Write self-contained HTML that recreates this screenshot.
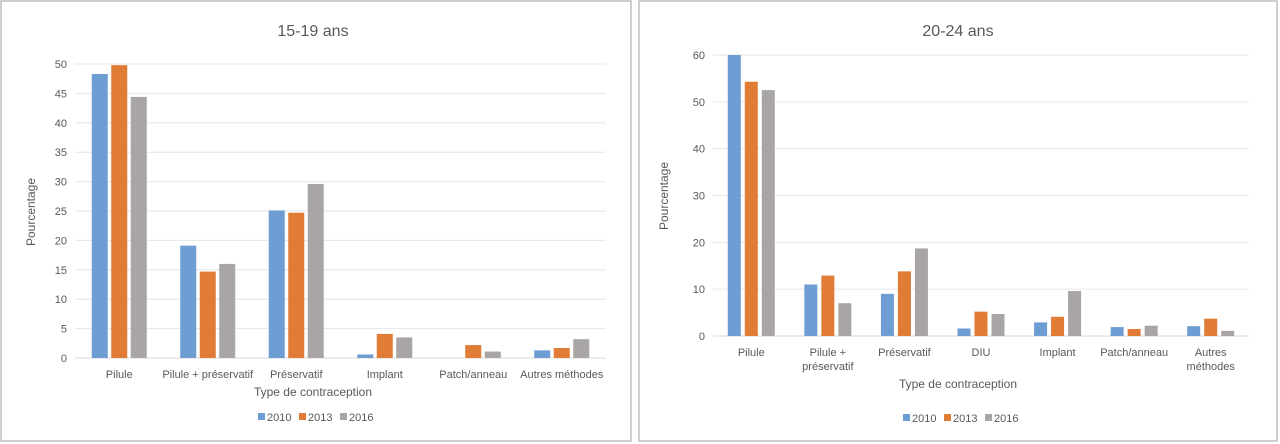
<!DOCTYPE html>
<html><head><meta charset="utf-8">
<style>
body{margin:0;width:1280px;height:444px;background:#fff;overflow:hidden;font-family:"Liberation Sans",sans-serif}
svg{position:absolute;left:0;top:0}
text{fill:#595959;font-family:"Liberation Sans",sans-serif}
</style></head><body>
<svg width="1280" height="444" id="svg"></svg>
<script>
const leftCategories=["Pilule","Pilule + préservatif","Préservatif","Implant","Patch/anneau","Autres méthodes"];
const left2010=[48.3,19.1,25.1,0.6,0,1.3];
const left2013=[49.8,14.7,24.7,4.1,2.2,1.7];
const left2016=[44.4,16.0,29.6,3.5,1.1,3.2];
const leftTicks=[0,5,10,15,20,25,30,35,40,45,50];
const rightCategories=[["Pilule"],["Pilule +","préservatif"],["Préservatif"],["DIU"],["Implant"],["Patch/anneau"],["Autres","méthodes"]];
const right2010=[60,11,9,1.6,2.9,1.9,2.1];
const right2013=[54.3,12.9,13.8,5.2,4.1,1.5,3.7];
const right2016=[52.5,7,18.7,4.7,9.6,2.2,1.1];
const rightTicks=[0,10,20,30,40,50,60];
const years=["2010","2013","2016"];
const colors=["#6e9dd3","#e07c36","#a8a5a4"];
const NS="http://www.w3.org/2000/svg";
const svg=document.getElementById('svg');
function mk(tag,attrs,parent){const e=document.createElementNS(NS,tag);for(const k in attrs)e.setAttribute(k,attrs[k]);(parent||svg).appendChild(e);return e;}
function chart(o){
  const g=mk('g',{});
  
  
  const frame=mk('rect',{x:o.bx,y:o.by,width:o.bw,height:o.bh,fill:'#fff',stroke:'#bfbfbf','stroke-width':1.5},g);
  
  
  const t=mk('text',{x:o.tx,y:o.ty,'text-anchor':'middle','font-size':16},g);t.textContent=o.title;
  
  
  const y=v=>o.y0-(v/o.max)*(o.y0-o.yTop);
  o.ticks.forEach(v=>{
    const l=mk('line',{x1:o.x0,x2:o.x1,y1:y(v),y2:y(v),stroke:v===0?'#d9d9d9':'#e6e6e6','stroke-width':1},g);
    
    
    const tt=mk('text',{x:o.x0-8,y:y(v)+4,'text-anchor':'end','font-size':11},g);tt.textContent=v;
    
    
  });
  const n=o.cats.length,step=(o.x1-o.x0)/n;
  const series=o.series;
  o.cats.forEach((c,i)=>{
    const cx=o.x0+step*(i+0.5);
    series.forEach((s,j)=>{
      const x=cx+(j-1)*(o.bw2+o.gap)-o.bw2/2;
      const r=mk('rect',{x:x,y:y(s[i]),width:o.bw2,height:Math.max(0,o.y0-y(s[i])),fill:colors[j]},g);
      
      
    });
    const lines=Array.isArray(c)?c:[c];
    lines.forEach((ln,k)=>{
      const tt=mk('text',{x:cx,y:o.y0+20+k*14,'text-anchor':'middle','font-size':11},g);tt.textContent=ln;
      
      
    });
  });
  const yt=mk('text',{x:0,y:0,'text-anchor':'middle','font-size':12,transform:`translate(${o.ytx},${o.yty}) rotate(-90)`},g);yt.textContent='Pourcentage';
  
  
  const xt=mk('text',{x:o.tx,y:o.xty,'text-anchor':'middle','font-size':12},g);xt.textContent='Type de contraception';
  
  
  years.forEach((yr,j)=>{
    const lx=o.tx-55+j*41;
    const sw=mk('rect',{x:lx,y:o.ly-8,width:7,height:7,fill:colors[j]},g);
    
    
    const lt=mk('text',{x:lx+9,y:o.ly,'font-size':11},g);lt.textContent=yr;
    
    
  });
}
chart({name:'chart-15-19',bx:1,by:1,bw:630,bh:440,title:'15-19 ans',tx:313,ty:36,x0:75,x1:606,y0:358,yTop:64,max:50,ticks:leftTicks,cats:leftCategories,series:[left2010,left2013,left2016],bw2:16,gap:3.5,ytx:35,yty:212,xty:396,ly:421});
chart({name:'chart-20-24',bx:639,by:1,bw:638,bh:440,title:'20-24 ans',tx:958,ty:36,x0:713,x1:1249,y0:336,yTop:55,max:60,ticks:rightTicks,cats:rightCategories,series:[right2010,right2013,right2016],bw2:13,gap:4,ytx:668,yty:196,xty:388,ly:422});
</script>
</body></html>
